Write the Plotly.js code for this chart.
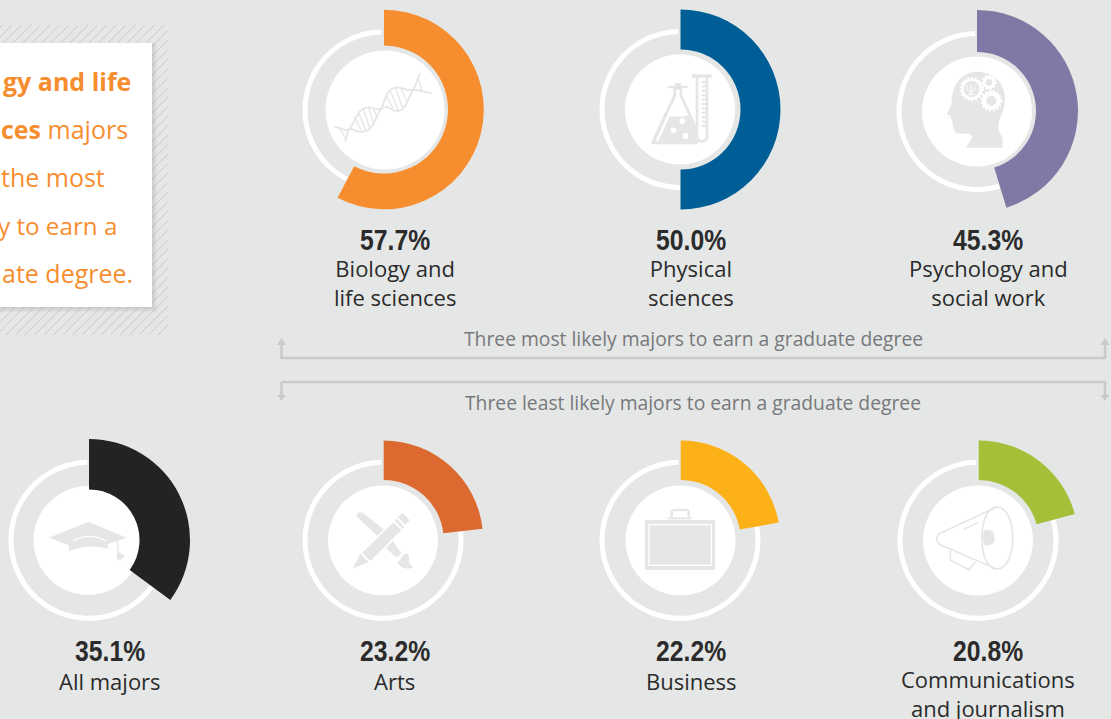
<!DOCTYPE html>
<html>
<head>
<meta charset="utf-8">
<script src="https://cdn.plot.ly/plotly-3.0.1.min.js"></script>
<style>html,body{margin:0;padding:0;background:#e5e7e6;overflow:hidden}#chart{width:1131px;height:719px;margin-left:-20px}</style>
</head>
<body>
<div id="chart"></div>
<script>
// ---- data ----
const categories = ['Biology and life sciences','Physical sciences','Psychology and social work','All majors','Arts','Business','Communications and journalism'];
const shares = [57.7, 50.0, 45.3, 35.1, 23.2, 22.2, 20.8];
const shareLabels = ['57.7%','50.0%','45.3%','35.1%','23.2%','22.2%','20.8%'];
const labelLines = [['Biology and','life sciences'],['Physical','sciences'],['Psychology and','social work'],['All majors'],['Arts'],['Business'],['Communications','and journalism']];
const calloutLines = ['<b>gy and life</b>','<b>ces</b> majors','the most','y to earn a','ate degree.'];
const bracketLabels = ['Three most likely majors to earn a graduate degree','Three least likely majors to earn a graduate degree'];

// ---- styles and geometry ----
const OFF = 20, W = 1111 + OFF, H = 719, BG = '#e5e7e6', ICON = '#e5e7e6', CLEAR = 'rgba(0,0,0,0)';
const colors = ['#f68e2f','#005e97','#7f7aa5','#222423','#dc6930','#fdb119','#a5bf38'];
const donutGeom = [ // cx, cy, outer r, inner r
  [384,109.5,99.8,64],[680.5,109.5,100,60],[977,111,101,59],[89,540,101,50.5],[383.7,540,99.5,60],[680.7,540,99.5,60],[978.7,540,99.5,60]];
const ringGeom = [[383,110],[680,109.5],[977,111.5],[89,540.3],[383,540.3],[680,540.3],[978,540.3]];
const discGeom = [[385,110,59.5],[680,109.5,55],[977,111.5,55],[88,540.5,54.5],[383,540.5,55],[680.5,540.5,55],[978,540.5,55]];
const labelX = [394.5,691,988,110,394.5,691,988];
const pctY = [240,240,240,651,651,651,651];
const labelY = [282.5,282.5,282.5,680.5,680.5,680.5,693.5];
const calloutRight = [132,128.5,106,118,134];
const calloutY = [81,129,177,225,273];
const calloutSize = [25,25,25,24.2,25];

const fx = x => +((x + OFF) / W).toFixed(5), fy = y => +(1 - y / H).toFixed(5);
// turn an absolute "M x y L x y ..." path written in picture pixels (optionally from a 3x crop) into paper space
function P(d, ox = 0, oy = 0, k = 1) {
  let i = 0;
  return d.replace(/-?\d+(\.\d+)?/g, n => {
    const v = parseFloat(n);
    return (i++ % 2 === 0) ? fx(ox + v * k) : fy(oy + v * k);
  });
}
const shapes = [];
const fill = (path, color, o) => shapes.push(Object.assign({type:'path', xref:'paper', yref:'paper', path, fillcolor:color, line:{width:0}, layer:'below'}, o || {}));
const stroke = (path, color, w, o) => shapes.push(Object.assign({type:'path', xref:'paper', yref:'paper', path, line:{color, width:w}, layer:'below'}, o || {}));
const circle = (cx, cy, r, fc, lineOpt) => shapes.push({type:'circle', xref:'paper', yref:'paper', x0:fx(cx-r), x1:fx(cx+r), y0:fy(cy+r), y1:fy(cy-r), fillcolor:fc, line:lineOpt || {width:0}, layer:'below'});
const rect = (x0, y0, x1, y1, fc, op) => shapes.push({type:'rect', xref:'paper', yref:'paper', x0:fx(x0), x1:fx(x1), y0:fy(y1), y1:fy(y0), fillcolor:fc, opacity:op === undefined ? 1 : op, line:{width:0}, layer:'below'});

// hatched backing of the callout
(function () {
  const L = -10, R = 168, T = 25, B = 335; let d = '';
  for (let c = L + T + 3; c < R + B; c += 9.5) {
    const x0 = Math.max(L, c - B), y0 = c - x0;
    const x1 = Math.min(R, c - T), y1 = c - x1;
    d += ` M ${x0} ${y0} L ${x1} ${y1}`;
  }
  stroke(P(d), '#c8cac9', 1);
})();
for (let s = 5; s >= 1; s--) rect(-10, 43, 152 + s, 307 + s, '#9a9c9b', 0.07);
rect(-10, 43, 152, 307, '#ffffff');

// white discs
discGeom.forEach(g => circle(g[0], g[1], g[2], '#ffffff'));

// --- icons (coordinates in 3x crop space) ---
// DNA
(function () {
  const Q = d => P(d, 325, 50, 1/3);
  stroke(Q('M 28 232 C 50 228 60 250 75 235 C 95 205 100 172 130 172 C 150 172 155 185 170 175 C 195 160 195 190 225 182 C 245 175 250 140 265 120 C 272 105 278 85 285 70'), ICON, 1.9);
  stroke(Q('M 60 275 C 65 260 65 245 75 235 C 95 245 115 250 130 240 C 150 225 155 190 170 175 C 180 150 185 115 215 112 C 240 112 245 125 265 120 C 285 118 300 130 320 128'), ICON, 1.9);
  const r = [[88,200,108,240],[100,185,122,240],[115,175,135,238],[130,172,148,225],[145,178,158,205],[186,140,205,176],[197,125,220,180],[212,115,232,172],[228,115,244,150],[280,85,290,120],[42,232,60,262]];
  r.forEach(a => stroke(Q(`M ${a[0]} ${a[1]} L ${a[2]} ${a[3]}`), ICON, 1.4));
})();
// flask and tube
(function () {
  const Q = d => P(d, 625, 55, 1/3);
  fill(Q('M 128 92 L 150 92 L 150 84 L 168 84 L 168 92 L 188 92 L 188 100 L 172 100 L 172 120 L 218 222 L 218 268 L 84 268 Q 76 268 80 258 L 145 120 L 145 100 L 128 100 Z'), ICON);
  fill(Q('M 153 104 L 164 104 L 164 122 L 190 180 C 170 190 150 180 128 186 L 153 122 Z'), '#ffffff');
  fill(Q('M 128 194 L 98 258 L 212 258 L 212 234 L 192 188 C 170 198 150 190 128 194 Z'), ICON);
  fill(Q('M 140 150 L 92 258 L 100 258 L 146 158 Z'), '#ffffff');
  circle(625 + 172/3, 55 + 198/3, 2.9, '#ffffff');
  circle(625 + 146/3, 55 + 226/3, 2.9, '#ffffff');
  circle(625 + 182/3, 55 + 243/3, 2.9, '#ffffff');
  fill(Q('M 200 58 L 260 58 L 260 68 L 250 68 L 250 245 C 250 270 212 270 212 245 L 212 68 L 200 68 Z'), ICON);
  fill(Q('M 220 68 L 242 68 L 242 245 C 242 258 220 258 220 245 Z'), '#ffffff');
  for (let y = 78; y <= 210; y += 13.2) fill(Q(`M 230 ${y} L 243 ${y} L 243 ${y + 6} L 230 ${y + 6} Z`), ICON);
})();
// head with gears
(function () {
  const Q = d => P(d, 920, 55, 1/3), X = v => 920 + v/3, Y = v => 55 + v/3;
  fill(Q('M 172 50 C 220 50 255 85 255 130 C 255 170 235 190 235 215 C 235 235 248 240 248 255 L 248 278 L 138 278 L 155 250 C 158 238 150 234 130 236 C 108 238 100 228 98 210 C 96 200 98 195 92 190 L 92 184 L 80 178 L 95 148 C 92 100 120 50 172 50 Z'), ICON);
  [[155,102,32,24],[207,82,19,10],[214,137,28,15]].forEach(g => {
    circle(X(g[0]), Y(g[1]), g[2]/3 + 0.6, CLEAR, {color:'#ffffff', width:1.8, dash:'2px,2px'});
    circle(X(g[0]), Y(g[1]), g[2]/3, '#ffffff');
    circle(X(g[0]), Y(g[1]), g[3]/3, ICON);
  });
  stroke(Q('M 153 88 L 153 120 M 143 118 L 163 118 M 140 92 C 140 108 148 110 153 110 C 158 110 166 108 166 92'), '#ffffff', 1);
})();
// mortarboard
(function () {
  const Q = d => P(d, 30, 485, 1/3);
  fill(Q('M 57 158 L 175 110 L 290 158 L 233 178 L 233 192 C 200 180 150 182 118 199 L 115 180 Z'), ICON);
  stroke(Q('M 130 168 C 155 150 200 150 228 168'), '#ffffff', 1.1);
  stroke(Q('M 262 170 L 265 200'), ICON, 1.3);
  fill(Q('M 262 198 L 285 214 L 270 226 L 260 222 Z'), ICON);
})();
// pencil and brush
(function () {
  const Q = d => P(d, 328, 485, 1/3);
  fill(Q('M 75 250 L 97 205 L 122 232 Z'), ICON);
  fill(Q('M 103 203 L 196 112 L 220 135 L 127 228 Z'), ICON);
  fill(Q('M 200 107 L 206 101 L 229 125 L 223 131 Z'), ICON);
  fill(Q('M 210 97 L 222 83 L 245 105 L 232 120 Z'), ICON);
  fill(Q('M 86 95 Q 88 76 106 85 L 167 133 L 148 152 Z'), ICON);
  fill(Q('M 174 190 L 195 168 L 220 205 L 207 218 Z'), ICON);
  fill(Q('M 208 230 C 222 226 225 200 240 208 C 248 215 236 235 256 248 C 235 254 215 250 208 230 Z'), ICON);
})();
// briefcase
(function () {
  const Q = d => P(d, 625, 485, 1/3);
  fill(Q('M 60 105 L 270 105 L 270 255 L 60 255 Z'), ICON);
  stroke(Q('M 72 119 L 259 119 L 259 241 L 72 241 Z'), '#ffffff', 1.4);
  stroke(Q('M 140 98 L 140 82 Q 140 75 148 75 L 183 75 Q 191 75 191 82 L 191 98'), ICON, 2.6);
  fill(Q('M 128 97 L 200 97 L 200 103 L 128 103 Z'), ICON);
})();
// megaphone
(function () {
  const Q = d => P(d, 922, 485, 1/3);
  stroke(Q('M 225 66 C 255 66 272 110 272 160 C 272 210 255 252 225 252 C 195 252 180 210 180 160 C 180 110 195 66 225 66 Z'), ICON, 1.7);
  stroke(Q('M 222 67 L 58 143 C 40 150 40 172 58 181 L 222 251'), ICON, 1.7);
  stroke(Q('M 125 133 L 167 113'), ICON, 1.5);
  stroke(Q('M 85 198 L 85 225 L 140 254 L 160 232'), ICON, 1.7);
  fill(Q('M 186 136 C 205 130 218 142 218 158 C 218 175 205 186 186 180 C 182 165 182 150 186 136 Z'), ICON);
})();

// brackets between the rows
const BR = '#c9cbca';
stroke(P('M 281.5 345 L 281.5 358 L 1105 358 L 1105 345'), BR, 2.6);
stroke(P('M 281.5 382 L 1105 382 L 1105 395 M 281.5 382 L 281.5 395'), BR, 2.6);
[[281.5,338,345],[1105,338,345],[281.5,401,395],[1105,401,395]].forEach(a =>
  fill(P(`M ${a[0]} ${a[1]} L ${a[0]+4.5} ${a[2]} L ${a[0]-4.5} ${a[2]} Z`), BR));

// --- traces ---
const domainOf = (cx, cy, r) => ({x:[(cx-r+OFF)/W,(cx+r+OFF)/W], y:[1-(cy+r)/H,1-(cy-r)/H]});
const base = {type:'pie', sort:false, direction:'clockwise', rotation:0, textinfo:'none', showlegend:false, hoverinfo:'skip'};
const ringGap = 0.35;
const traces = [];
shares.forEach((v, i) => {
  const [cx, cy] = ringGeom[i];
  traces.push(Object.assign({}, base, {
    name: categories[i] + ' ring', values:[v, 100 - v - ringGap, ringGap], labels:['a','b','c'],
    hole: 75.5/80.5, domain: domainOf(cx, cy, 80.5), marker:{colors:[CLEAR,'#ffffff',CLEAR], line:{width:0}}
  }));
});
shares.forEach((v, i) => {
  const g = donutGeom[i];
  traces.push(Object.assign({}, base, {
    name: categories[i], values:[v, 100 - v], labels:[categories[i],'Other'],
    hole: g[3]/g[2], domain: domainOf(g[0], g[1], g[2]), marker:{colors:[colors[i],CLEAR], line:{width:0}}
  }));
});

// --- text ---
const BODY = '"Open Sans", sans-serif', DARK = '#2b2b2b';
const note = (x, y, text, size, color, family, anchor, weight) => ({xref:'paper', yref:'paper', x:(x+OFF)/W, y:1-y/H, text, showarrow:false, xanchor:anchor||'center', yanchor:'middle', borderpad:0, font:{family, size, color, weight:weight||400}});
const annotations = [];
shareLabels.forEach((t, i) => {
  annotations.push(note(labelX[i], pctY[i], t, 29, DARK, '"Liberation Sans", sans-serif', 'center', 700));
  annotations.push(note(labelX[i], labelY[i], labelLines[i].join('<br>'), 22, DARK, BODY));
});
bracketLabels.forEach((t, i) => annotations.push(note(693, i ? 402.2 : 338.7, t, 19.3, '#77787b', BODY)));
calloutLines.forEach((t, i) => annotations.push(note(calloutRight[i], calloutY[i], t, calloutSize[i], '#f68e2f', BODY, 'right')));

Plotly.newPlot('chart', traces, {
  width:W, height:H, margin:{l:0,r:0,t:0,b:0}, paper_bgcolor:BG, plot_bgcolor:BG,
  showlegend:false, shapes, annotations
}, {displayModeBar:false, staticPlot:true}).then(() => {
  // the percentages are set in a condensed bold: fit them to the width they have in the reference
  document.querySelectorAll('.annotation-text').forEach(el => {
    if (/%$/.test(el.textContent)) {
      el.setAttribute('textLength', '70');
      el.setAttribute('lengthAdjust', 'spacingAndGlyphs');
    }
  });
});
</script>
</body>
</html>
